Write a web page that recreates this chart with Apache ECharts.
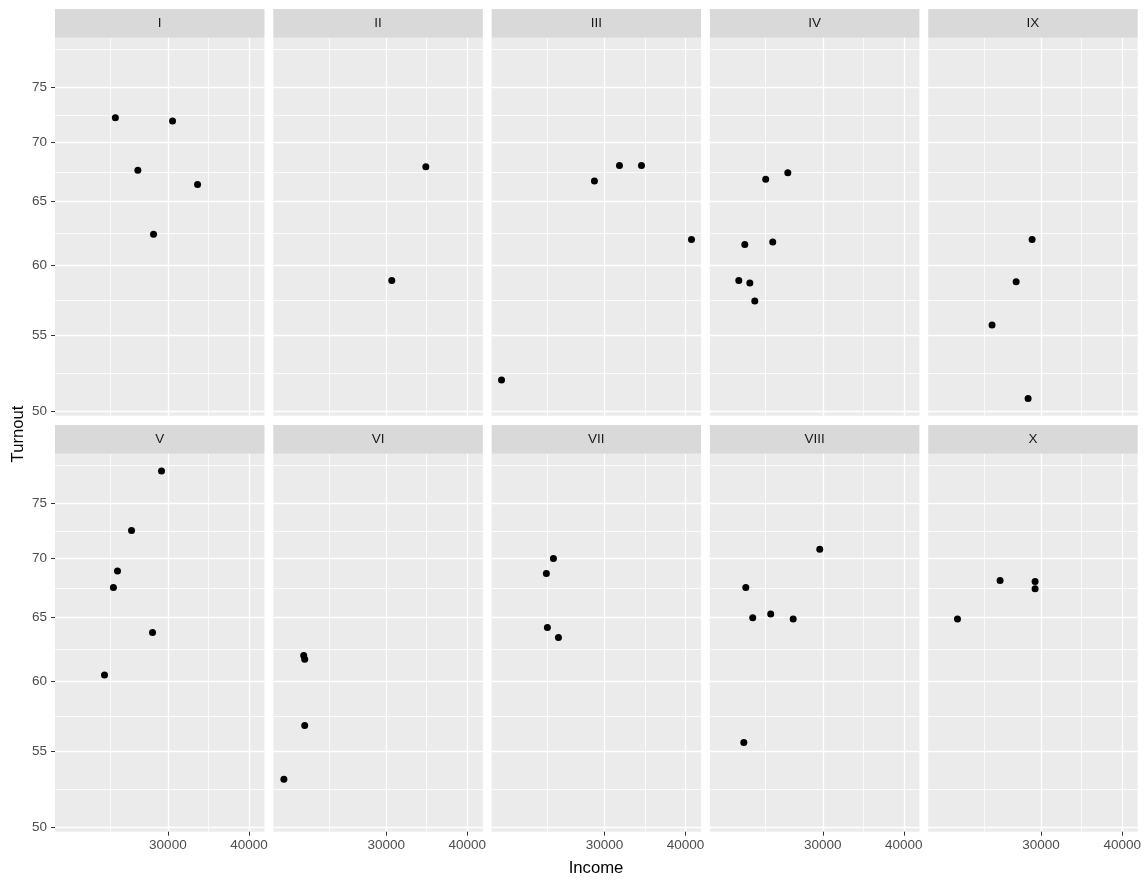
<!DOCTYPE html>
<html><head><meta charset="utf-8">
<script src="https://cdn.jsdelivr.net/npm/echarts@6/dist/echarts.min.js"></script>
<style>html,body{margin:0;padding:0;background:#fff}#c{width:1147px;height:887px}</style>
</head><body><div id="c"></div>
<script>
// ---- data ----
const panelNames = ['I','II','III','IV','IX','V','VI','VII','VIII','X'];
const income_I = [24900, 30500, 26970, 33330, 28510];
const turnout_I = [72.2, 71.9, 67.6, 66.4, 62.4];
const income_II = [34530, 30600];
const turnout_II = [67.9, 58.9];
const income_III = [20820, 28950, 31640, 34210, 40850];
const turnout_III = [52.0, 66.7, 68.0, 68.0, 62.0];
const income_IV = [26500, 24500, 25120, 22750, 22270, 23160, 23570];
const turnout_IV = [67.4, 66.85, 61.8, 61.6, 58.9, 58.7, 57.4];
const income_IX = [29060, 27460, 25210, 28650];
const turnout_IX = [62.0, 58.8, 55.7, 50.8];
const income_V = [29330, 26370, 25090, 24730, 28410, 23960];
const turnout_V = [78.1, 72.5, 68.9, 67.5, 63.8, 60.5];
const income_VI = [22390, 22470, 22470, 20870];
const turnout_VI = [62.0, 61.7, 56.8, 53.1];
const income_VII = [25030, 24410, 24500, 25480];
const turnout_VII = [70.0, 68.7, 64.2, 63.4];
const income_VIII = [29680, 22830, 23400, 24940, 27010, 22670];
const turnout_VIII = [70.8, 67.5, 65.0, 65.3, 64.9, 55.6];
const income_X = [22300, 25940, 29370, 29370];
const turnout_X = [64.9, 68.1, 68.0, 67.4];

const xTicks = [30000, 40000];
const xMinorTicks = [24495, 34641];
const yTicks = [50, 55, 60, 65, 70, 75];
const yMinorTicks = [52.44, 57.45, 62.45, 67.45, 72.46, 78.66];

const incomes = [income_I, income_II, income_III, income_IV, income_IX, income_V, income_VI, income_VII, income_VIII, income_X];
const turnouts = [turnout_I, turnout_II, turnout_III, turnout_IV, turnout_IX, turnout_V, turnout_VI, turnout_VII, turnout_VIII, turnout_X];

// ---- layout ----
const FONT = "'Liberation Sans', Arial, sans-serif";
const colLeft = [55, 273.3, 491.6, 709.9, 928.2];
const panelW = 209.5;
const rowTop = [37.7, 453.7];
const panelH = 378;
const stripH = 28.7;
const X_MIN = 4.3032, X_MAX = 4.6260;   // log10 income extent
const Y_MIN = 1.69658, Y_MAX = 1.90202; // log10 turnout extent

const lg = v => Math.log10(v);
const fmt = v => String(Math.round(Math.pow(10, v)));

const grids = [], xAxes = [], yAxes = [], series = [], graphics = [];
panelNames.forEach((name, i) => {
  const r = Math.floor(i / 5), c = i % 5;
  const left = colLeft[c], top = rowTop[r];
  grids.push({left: left, top: top, width: panelW, height: panelH, show: true,
    backgroundColor: '#EBEBEB', borderWidth: 0, containLabel: false, outerBoundsMode: 'none'});
  const bottom = r === 1, first = c === 0;
  // major x
  xAxes.push({gridIndex: i, type: 'value', min: X_MIN, max: X_MAX, z: 3,
    axisLine: {show: false},
    axisTick: {show: bottom, length: 4, lineStyle: {color: '#333333', width: 1}, customValues: xTicks.map(lg)},
    axisLabel: {show: bottom, customValues: xTicks.map(lg), formatter: fmt, color: '#4D4D4D',
      fontSize: 13.5, fontFamily: FONT, margin: 7},
    splitLine: {show: true, lineStyle: {color: '#FFFFFF', width: 1.3}}});
  // minor x
  xAxes.push({gridIndex: i, type: 'value', min: X_MIN, max: X_MAX,
    axisLine: {show: false},
    axisTick: {show: false, customValues: xMinorTicks.map(lg)},
    axisLabel: {show: false, customValues: xMinorTicks.map(lg)},
    splitLine: {show: true, lineStyle: {color: '#FFFFFF', width: 0.8}}});
  // major y
  yAxes.push({gridIndex: i, type: 'value', min: Y_MIN, max: Y_MAX, z: 3,
    axisLine: {show: false},
    axisTick: {show: first, length: 4, lineStyle: {color: '#333333', width: 1}, customValues: yTicks.map(lg)},
    axisLabel: {show: first, customValues: yTicks.map(lg), formatter: fmt, color: '#4D4D4D',
      fontSize: 13.5, fontFamily: FONT, margin: 8},
    splitLine: {show: true, lineStyle: {color: '#FFFFFF', width: 1.3}}});
  // minor y
  yAxes.push({gridIndex: i, type: 'value', min: Y_MIN, max: Y_MAX,
    axisLine: {show: false},
    axisTick: {show: false, customValues: yMinorTicks.map(lg)},
    axisLabel: {show: false, customValues: yMinorTicks.map(lg)},
    splitLine: {show: true, lineStyle: {color: '#FFFFFF', width: 0.8}}});

  series.push({type: 'scatter', xAxisIndex: 2 * i, yAxisIndex: 2 * i, z: 5,
    symbol: 'circle', symbolSize: 7, itemStyle: {color: '#000000', opacity: 1}, silent: true,
    data: incomes[i].map((v, k) => [lg(v), lg(turnouts[i][k])])});

  graphics.push({type: 'rect', shape: {x: left, y: top - stripH, width: panelW, height: stripH},
    style: {fill: '#D9D9D9'}, silent: true});
  graphics.push({type: 'text', x: left + panelW / 2, y: top - stripH / 2,
    style: {text: name, fill: '#1A1A1A', font: '13.5px ' + FONT, textAlign: 'center', textVerticalAlign: 'middle'},
    silent: true});
});

graphics.push({type: 'text', x: 596, y: 868,
  style: {text: 'Income', fill: '#000000', font: '16.7px ' + FONT, textAlign: 'center', textVerticalAlign: 'middle'}});
graphics.push({type: 'text', x: 18, y: 434, rotation: Math.PI / 2,
  style: {text: 'Turnout', fill: '#000000', font: '16.7px ' + FONT, textAlign: 'center', textVerticalAlign: 'middle'}});

const chart = echarts.init(document.getElementById('c'), null, {renderer: 'canvas'});
chart.setOption({
  animation: false,
  backgroundColor: '#FFFFFF',
  grid: grids, xAxis: xAxes, yAxis: yAxes, series: series, graphic: graphics
});
</script></body></html>
